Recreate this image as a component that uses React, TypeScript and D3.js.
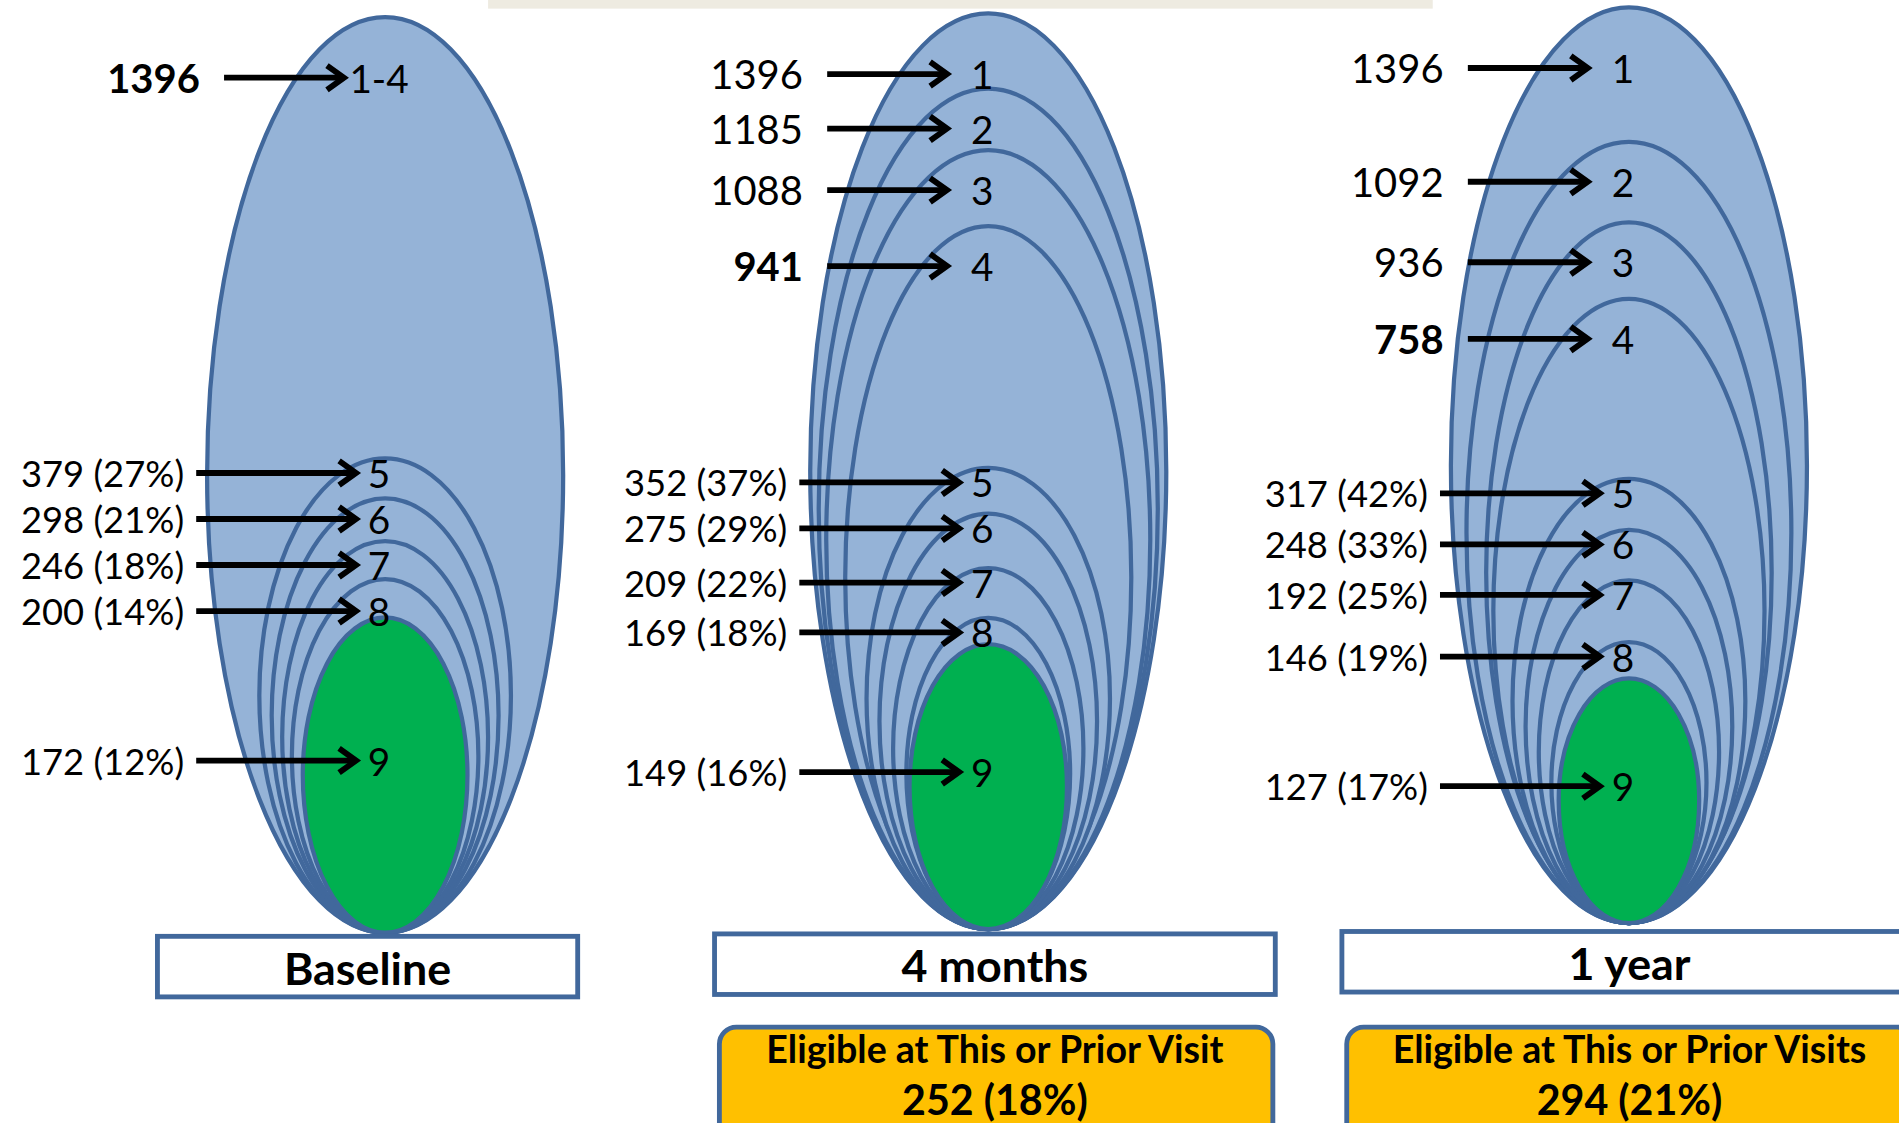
import React from 'react';
import * as d3 from 'd3';

// panel titles and step data
const panelNames = ['Baseline', '4 months', '1 year'];

const baselineSteps = ['1-4', '5', '6', '7', '8', '9'];
const baselineCounts = [1396, 379, 298, 246, 200, 172];
const baselinePcts = ['', '27%', '21%', '18%', '14%', '12%'];

const monthSteps = ['1', '2', '3', '4', '5', '6', '7', '8', '9'];
const monthCounts = [1396, 1185, 1088, 941, 352, 275, 209, 169, 149];
const monthPcts = ['', '', '', '', '37%', '29%', '22%', '18%', '16%'];

const yearSteps = ['1', '2', '3', '4', '5', '6', '7', '8', '9'];
const yearCounts = [1396, 1092, 936, 758, 317, 248, 192, 146, 127];
const yearPcts = ['', '', '', '', '42%', '33%', '25%', '19%', '17%'];

// how many rings belong to the upper (steps 1-4) group, the last one is bold
const topGroupSize = [1, 4, 4];

const eligibleTitles = ['', 'Eligible at This or Prior Visit', 'Eligible at This or Prior Visits'];
const eligibleValues = ['', '252 (18%)', '294 (21%)'];

const stepsByPanel = [baselineSteps, monthSteps, yearSteps];
const countsByPanel = [baselineCounts, monthCounts, yearCounts];
const pctsByPanel = [baselinePcts, monthPcts, yearPcts];

// layout (viewBox units)
const W = 1568;
const H = 927;
const panels = [
  { cx: 318, bottom: 770, boxX: 130, boxW: 347, boxY: 773 },
  { cx: 816, bottom: 767, boxX: 590, boxW: 463, boxY: 771 },
  { cx: 1345, bottom: 762, boxX: 1108, boxW: 475, boxY: 769 },
];

const BLUE = '#95b3d7';
const GREEN = '#00b050';
const EDGE = '#41689c';
const GOLD = '#ffc000';
const FONT = 'Lato, "Open Sans", sans-serif';
const MIN_GAP = 38;

// schematic size scales: count -> half height / half width of each ring
const ryScale = d3
  .scaleLinear()
  .domain([0, 127, 146, 170, 200, 250, 300, 380, 760, 940, 1090, 1185, 1396])
  .range([0, 101, 116, 129, 146, 163, 180, 196, 258, 290, 322, 347, 378]);

const rxScale = d3
  .scaleLinear()
  .domain([0, 127, 149, 172, 200, 246, 300, 380, 760, 940, 1090, 1185, 1396])
  .range([0, 58, 65, 68, 77, 85, 94, 104, 112, 118, 134, 140, 147]);

const Arrow: React.FC<{ x1: number; x2: number; y: number }> = ({ x1, x2, y }) => (
  <g stroke="#000" strokeWidth={4.8} fill="none">
    <line x1={x1} y1={y} x2={x2 - 3} y2={y} />
    <path d={`M${x2 - 14},${y - 10} L${x2},${y} L${x2 - 14},${y + 10}`} strokeLinejoin="miter" />
  </g>
);

const Panel: React.FC<{ idx: number }> = ({ idx }) => {
  const p = panels[idx];
  const steps = stepsByPanel[idx];
  const counts = countsByPanel[idx];
  const pcts = pctsByPanel[idx];
  const nTop = topGroupSize[idx];
  const last = counts.length - 1;

  let prevY = -Infinity;
  const rings = counts.map((c, i) => {
    const ry = ryScale(c);
    const rx = rxScale(c);
    const cy = p.bottom - ry;
    const top = p.bottom - 2 * ry;
    const isTop = i < nTop;
    let y = i === last ? cy - 12 : top + (i === 0 ? 50 : isTop ? 33 : 12);
    y = Math.max(y, prevY + MIN_GAP);
    prevY = y;
    return { c, i, ry, rx, cy, top, isTop, y };
  });

  const mid = p.boxX + p.boxW / 2;

  return (
    <g>
      {rings.map((r) => (
        <ellipse
          key={'e' + r.i}
          cx={p.cx}
          cy={r.cy}
          rx={r.rx}
          ry={r.ry}
          fill={r.i === last ? GREEN : BLUE}
          stroke={EDGE}
          strokeWidth={3.5}
        />
      ))}
      {rings.map((r) => {
        const label = pcts[r.i] ? `${r.c} (${pcts[r.i]})` : `${r.c}`;
        const bold = r.i === nTop - 1;
        const textRight = r.isTop ? p.cx - 153 : p.cx - 166;
        const a1 = r.isTop ? p.cx - 133 : p.cx - 156;
        const a2 = r.isTop ? p.cx - 34 : p.cx - 24;
        return (
          <g key={'l' + r.i}>
            <text
              x={textRight}
              y={r.y}
              textAnchor="end"
              dominantBaseline="central"
              fontFamily={FONT}
              fontSize={pcts[r.i] ? 30 : 33}
              fontWeight={bold ? 700 : 400}
              fill="#000"
            >
              {label}
            </text>
            <Arrow x1={a1} x2={a2} y={r.y} />
            <text
              x={p.cx - 5}
              y={r.y}
              textAnchor="middle"
              dominantBaseline="central"
              fontFamily={FONT}
              fontSize={32}
              fill="#000"
            >
              {steps[r.i]}
            </text>
          </g>
        );
      })}
      <rect x={p.boxX} y={p.boxY} width={p.boxW} height={50} fill="#fff" stroke={EDGE} strokeWidth={4} />
      <text
        x={mid}
        y={p.boxY + 26}
        textAnchor="middle"
        dominantBaseline="central"
        fontFamily={FONT}
        fontSize={37}
        fontWeight={700}
      >
        {panelNames[idx]}
      </text>
      {eligibleTitles[idx] && (
        <g>
          <rect
            x={p.boxX + 4}
            y={848}
            width={p.boxW - 6}
            height={95}
            rx={14}
            fill={GOLD}
            stroke={EDGE}
            strokeWidth={4}
          />
          <text
            x={mid}
            y={866}
            textAnchor="middle"
            dominantBaseline="central"
            fontFamily={FONT}
            fontSize={31}
            fontWeight={700}
          >
            {eligibleTitles[idx]}
          </text>
          <text
            x={mid}
            y={907}
            textAnchor="middle"
            dominantBaseline="central"
            fontFamily={FONT}
            fontSize={34}
            fontWeight={700}
          >
            {eligibleValues[idx]}
          </text>
        </g>
      )}
    </g>
  );
};

export default function App() {
  return (
    <svg
      width={1899}
      height={1123}
      viewBox={`0 0 ${W} ${H}`}
      style={{ position: 'absolute', left: 0, top: 0, background: '#fff', display: 'block' }}
    >
      <rect x={403} y={-6} width={780} height={13} fill="#eeebe1" />
      {panels.map((_, i) => (
        <Panel key={i} idx={i} />
      ))}
    </svg>
  );
}
